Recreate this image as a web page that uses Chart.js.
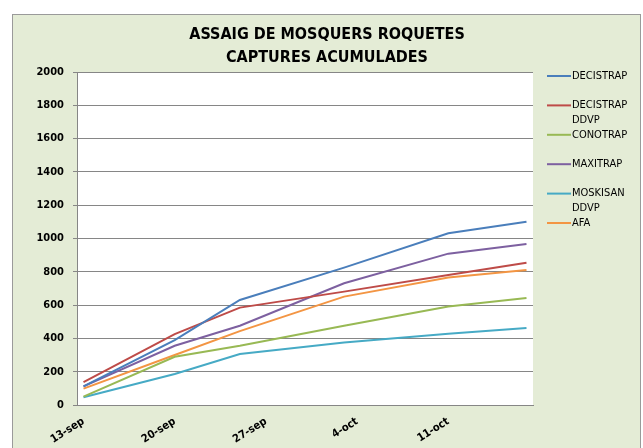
<!DOCTYPE html>
<html lang="ca">
<head>
<meta charset="UTF-8">
<title>Assaig de mosquers Roquetes</title>
<script src="https://cdn.jsdelivr.net/npm/chart.js"></script>
<style>
    body { margin: 0; background: #fff; }
    #wrap { width: 643px; height: 448px; }
</style>
</head>
<body>

<div id="wrap"><canvas id="capturesChart" width="643" height="448"></canvas></div>

<script>
// dies de mostreig, comptats des del 13-sep
const sampleDays = [0, 7, 12, 20, 28, 34];
const tickLabels = ['13-sep', '20-sep', '27-sep', '4-oct', '11-oct'];
const seriesNames = ['DECISTRAP', 'DECISTRAP DDVP', 'CONOTRAP', 'MAXITRAP', 'MOSKISAN DDVP', 'AFA'];

// captures acumulades
const decistrap     = [112, 390, 631, 825, 1031, 1101];
const decistrapDdvp = [138, 426, 585, 681, 781, 855];
const conotrap      = [50, 290, 356, 476, 591, 643];
const maxitrap      = [112, 356, 476, 731, 909, 967];
const moskisanDdvp  = [46, 186, 306, 376, 428, 462];
const afa           = [98, 300, 444, 651, 766, 811];

const seriesValues = [decistrap, decistrapDdvp, conotrap, maxitrap, moskisanDdvp, afa];
const seriesColors = ['#4a7ebb', '#be4b48', '#98b954', '#7d60a0', '#46aac5', '#f39543'];

const FONT = "'Liberation Sans Narrow', 'DejaVu Sans Condensed', sans-serif";

// fons verd, marc i area blanca del grafic
const backgroundPlugin = {
    id: 'fons',
    beforeDraw(chart) {
        const ctx = chart.ctx;
        const a = chart.chartArea;
        ctx.save();
        ctx.fillStyle = '#ffffff';
        ctx.fillRect(0, 0, chart.width, chart.height);
        ctx.fillStyle = '#e4ecd6';
        ctx.fillRect(12, 14, chart.width - 14, chart.height);
        ctx.strokeStyle = '#9a9a9a';
        ctx.lineWidth = 1;
        ctx.strokeRect(12.5, 14.5, chart.width - 15, chart.height + 5);
        ctx.fillStyle = '#ffffff';
        ctx.fillRect(a.left, a.top, a.right - a.left, a.bottom - a.top);
        ctx.restore();
    }
};

// titol i llegenda
const textPlugin = {
    id: 'textos',
    afterDraw(chart) {
        const ctx = chart.ctx;
        ctx.save();
        ctx.fillStyle = '#000';
        ctx.textAlign = 'center';
        ctx.textBaseline = 'alphabetic';
        ctx.font = 'bold 16px ' + FONT;
        ctx.fillText('ASSAIG DE MOSQUERS ROQUETES', 327, 39);
        ctx.fillText('CAPTURES ACUMULADES', 327, 62);

        ctx.font = '11px ' + FONT;
        ctx.textAlign = 'left';
        ctx.textBaseline = 'middle';
        chart.data.datasets.forEach((ds, i) => {
            const y = 76 + i * 29.4;
            ctx.strokeStyle = ds.borderColor;
            ctx.lineWidth = 2;
            ctx.beginPath();
            ctx.moveTo(547, y);
            ctx.lineTo(571, y);
            ctx.stroke();
            const words = ds.label.split(' ');
            words.forEach((w, j) => {
                ctx.fillText(w, 572, y + j * 15);
            });
        });
        ctx.restore();
    }
};

new Chart(document.getElementById('capturesChart'), {
    type: 'line',
    data: {
        datasets: seriesNames.map((name, i) => ({
            label: name,
            data: sampleDays.map((d, j) => ({ x: d, y: seriesValues[i][j] })),
            borderColor: seriesColors[i],
            backgroundColor: seriesColors[i],
            borderWidth: 2,
            pointRadius: 0,
            tension: 0,
            fill: false
        }))
    },
    options: {
        responsive: false,
        animation: false,
        layout: { padding: { left: 12, right: 110, top: 72, bottom: 0 } },
        plugins: {
            legend: { display: false },
            title: { display: false },
            tooltip: { enabled: false }
        },
        scales: {
            x: {
                type: 'linear',
                min: -0.5,
                max: 34.5,
                afterBuildTicks(scale) {
                    scale.ticks = tickLabels.map((t, i) => ({ value: i * 7 }));
                },
                afterFit(scale) { scale.height = 43; },
                grid: { display: false, drawTicks: false },
                border: { display: true, color: '#868686' },
                ticks: {
                    autoSkip: false,
                    minRotation: 32,
                    maxRotation: 32,
                    padding: 10,
                    color: '#000',
                    font: { family: FONT, size: 11, weight: 'bold' },
                    callback: (v) => tickLabels[Math.round(v / 7)]
                }
            },
            y: {
                min: 0,
                max: 2000,
                afterFit(scale) { scale.width = 65; },
                grid: { color: '#868686', tickLength: 4, drawTicks: true },
                border: { display: true, color: '#868686' },
                ticks: {
                    stepSize: 200,
                    padding: 9,
                    color: '#000',
                    font: { family: FONT, size: 11, weight: 'bold' },
                    callback: (v) => String(v)
                }
            }
        }
    },
    plugins: [backgroundPlugin, textPlugin]
});
</script>

</body>
</html>
